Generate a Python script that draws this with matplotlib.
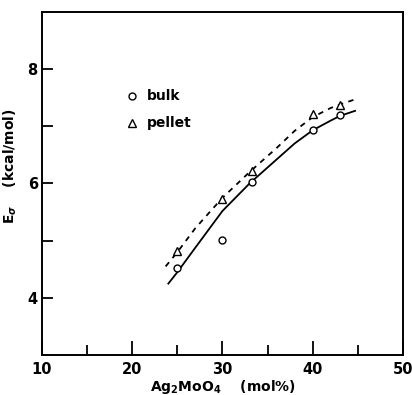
import numpy as np
import matplotlib.pyplot as plt
from matplotlib.ticker import MultipleLocator

# measured points
bulk_x = [25, 30, 33.3, 40, 43]
bulk_y = [4.52, 5.02, 6.02, 6.93, 7.2]
pellet_x = [25, 30, 33.3, 40, 43]
pellet_y = [4.82, 5.73, 6.22, 7.22, 7.37]

# hand-drawn fit curves
bulk_fit_x = [24, 25, 27, 30, 33, 36, 38, 40, 42, 43, 44.7]
bulk_fit_y = [4.25, 4.45, 4.88, 5.52, 6.0, 6.42, 6.7, 6.93, 7.1, 7.18, 7.27]
pellet_fit_x = [23.7, 25, 27, 30, 33, 36, 38, 40, 42, 43, 44.7]
pellet_fit_y = [4.55, 4.8, 5.22, 5.75, 6.2, 6.62, 6.92, 7.16, 7.32, 7.38, 7.47]

plt.rcParams['font.family'] = 'DejaVu Sans'
plt.rcParams['font.weight'] = 'bold'

fig = plt.figure(figsize=(4.12, 3.95), dpi=100)
ax = fig.add_axes([0.102, 0.101, 0.876, 0.869])

ax.plot(bulk_fit_x, bulk_fit_y, '-', color='black', lw=1.3)
ax.plot(pellet_fit_x, pellet_fit_y, color='black', lw=1.3, linestyle=(0, (3, 3)))
ax.plot(bulk_x, bulk_y, 'o', mfc='white', mec='black', ms=5, mew=1.0, zorder=3)
ax.plot(pellet_x, pellet_y, '^', mfc='white', mec='black', ms=6, mew=1.0, zorder=3)

# legend written as text in the plot
ax.plot([20], [7.53], 'o', mfc='white', mec='black', ms=5, mew=1.0)
ax.plot([20], [7.05], '^', mfc='white', mec='black', ms=6, mew=1.0)
ax.text(21.6, 7.53, 'bulk', va='center', ha='left', fontsize=10, fontweight='bold')
ax.text(21.6, 7.05, 'pellet', va='center', ha='left', fontsize=10, fontweight='bold')

ax.set_xlim(10, 50)
ax.set_ylim(3, 9)
ax.set_xticks([10, 20, 30, 40, 50])
ax.xaxis.set_minor_locator(MultipleLocator(5))
ax.set_yticks([4, 5, 6, 7, 8])
ax.set_yticklabels(['4', '', '6', '', '8'])
ax.tick_params(axis='x', which='major', direction='in', length=10, width=1.3, labelsize=10.5, pad=5)
ax.tick_params(axis='x', which='minor', direction='in', length=7, width=1.3)
ax.tick_params(axis='y', direction='in', length=8, width=1.3, labelsize=10.5, pad=3)
for s in ax.spines.values():
    s.set_linewidth(1.4)

ax.set_xlabel('Ag$_2$MoO$_4$    (mol%)', fontsize=10, fontweight='bold', labelpad=1)
ax.set_ylabel('E$_\\sigma$    (kcal/mol)', fontsize=10, fontweight='bold')
ax.yaxis.set_label_coords(-0.065, 0.55)

fig.savefig('out.png', dpi=100)
